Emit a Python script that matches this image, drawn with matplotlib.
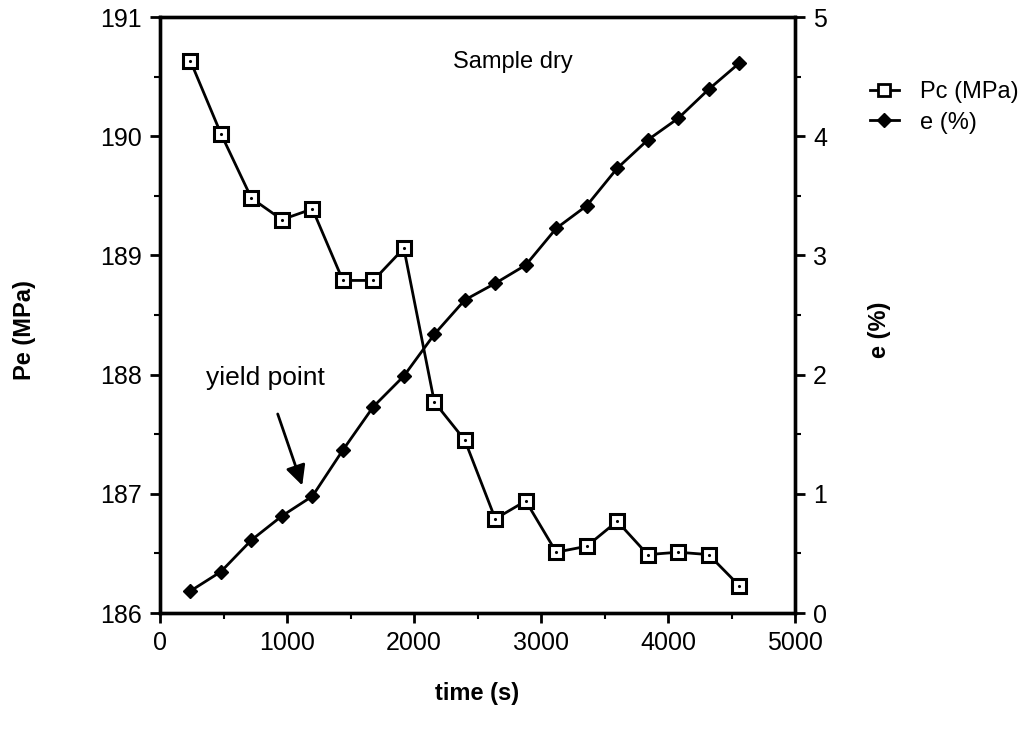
import matplotlib
matplotlib.use("Agg")
import matplotlib.pyplot as plt
from matplotlib.ticker import MultipleLocator
from matplotlib.lines import Line2D

plt.rcParams['font.family'] = ['Liberation Sans', 'DejaVu Sans']

# data
time_s = [240, 480, 720, 960, 1200, 1440, 1680, 1920, 2160, 2400,
          2640, 2880, 3120, 3360, 3600, 3840, 4080, 4320, 4560]
pc_mpa = [190.63, 190.02, 189.48, 189.30, 189.39, 188.79, 188.79, 189.06, 187.77, 187.45,
          186.79, 186.94, 186.51, 186.56, 186.77, 186.49, 186.51, 186.49, 186.23]
e_pct = [0.185, 0.347, 0.612, 0.814, 0.98, 1.367, 1.731, 1.988, 2.338, 2.626,
         2.766, 2.919, 3.227, 3.417, 3.731, 3.968, 4.15, 4.393, 4.612]

fig = plt.figure(figsize=(10.29, 7.33), dpi=100)
ax = fig.add_axes([0.1555, 0.1637, 0.6171, 0.8131])
ax2 = ax.twinx()

ax.plot(time_s, pc_mpa, color='black', lw=2, marker='s', ms=10,
        mfc='white', mec='black', mew=2.2, zorder=3)
ax.plot(time_s, pc_mpa, ls='none', marker='.', ms=2.5, color='black', zorder=4)
ax2.plot(time_s, e_pct, color='black', lw=2, marker='D', ms=7,
         mfc='black', mec='black', zorder=3)

ax.set_xlim(0, 5000)
ax.set_ylim(186, 191)
ax2.set_ylim(0, 5)

ax.xaxis.set_major_locator(MultipleLocator(1000))
ax.xaxis.set_minor_locator(MultipleLocator(500))
ax.yaxis.set_major_locator(MultipleLocator(1))
ax.yaxis.set_minor_locator(MultipleLocator(0.5))
ax2.yaxis.set_major_locator(MultipleLocator(1))
ax2.yaxis.set_minor_locator(MultipleLocator(0.5))

for a in (ax, ax2):
    for s in a.spines.values():
        s.set_linewidth(2.4)
    a.tick_params(which='major', direction='out', length=7, width=2, labelsize=18, pad=6)
    a.tick_params(which='minor', direction='out', length=4, width=1.5)

ax.set_xlabel('time (s)', fontsize=17, fontweight='bold')
ax.xaxis.set_label_coords(0.5, -0.115)
ax.set_ylabel('Pe (MPa)', fontsize=17, fontweight='bold')
ax.yaxis.set_label_coords(-0.195, 0.475)
ax2.set_ylabel('e (%)', fontsize=17, fontweight='bold', rotation=90)
ax2.yaxis.set_label_coords(1.115, 0.475)

ax.text(2780, 190.62, 'Sample dry', fontsize=17, ha='center', va='center')
ax.annotate('yield point', xy=(1120, 187.07), xytext=(830, 187.97),
            fontsize=19, ha='center', va='center',
            arrowprops=dict(arrowstyle='-|>', color='black', lw=2,
                            mutation_scale=30, shrinkA=16, shrinkB=0))

handles = [Line2D([], [], color='black', lw=2, marker='s', ms=9, mfc='white', mew=2),
           Line2D([], [], color='black', lw=2, marker='D', ms=7, mfc='black')]
fig.legend(handles, ['Pc (MPa)', 'e (%)'], loc='upper left', bbox_to_anchor=(0.825, 0.918),
           frameon=False, fontsize=17, handlelength=1.2, handletextpad=0.9, labelspacing=0.35)

fig.savefig('out.png', dpi=100)
